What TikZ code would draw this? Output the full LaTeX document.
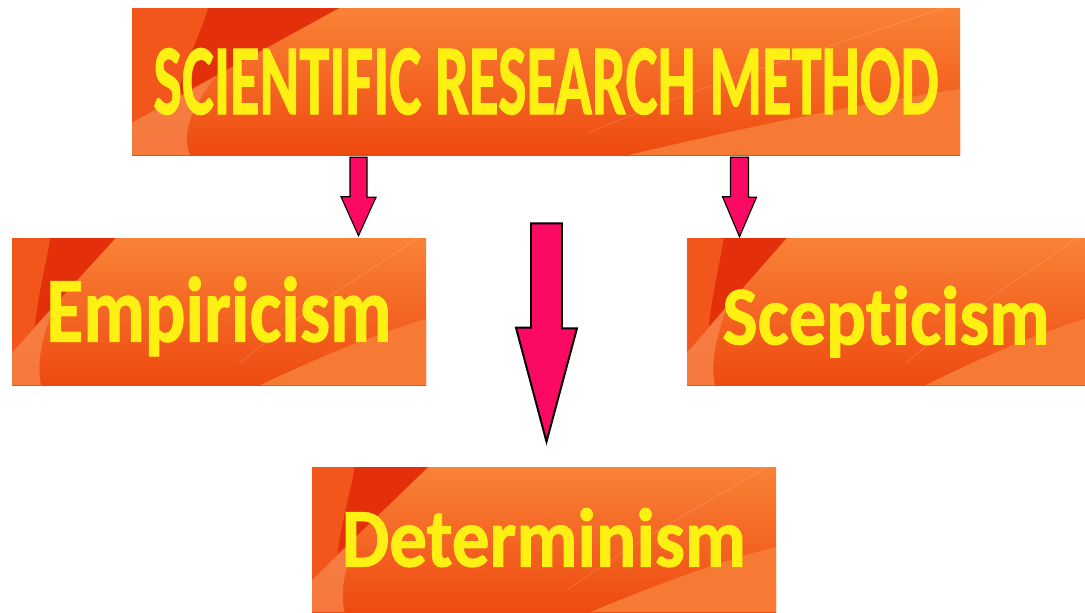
\documentclass[tikz,border=0pt]{standalone}
\usepackage{fontspec}
\setmainfont{Carlito}[Ligatures=NoCommon, BoldFeatures={FakeBold=1.2}]
\usepackage{graphicx}
\usetikzlibrary{calc}
\definecolor{panelred}{HTML}{E3300A}
\definecolor{panelorange}{HTML}{F2561A}
\definecolor{paneltop}{HTML}{F98236}
\definecolor{panelbottom}{HTML}{EE4A10}
\definecolor{panelpeach}{HTML}{F7844A}
\definecolor{panellight}{HTML}{F67A34}
\definecolor{titleyellow}{HTML}{FFF014}
\definecolor{arrowpink}{HTML}{FA0A62}

% text stretched to a given ink width and cap height
\newcommand{\fittext}[3]{\resizebox{#1}{#2}{\raisebox{0pt}[\fontcharht\font`E][0pt]{#3}}}

% orange wallpaper of a box: top left corner, width, height (px)
\newcommand{\panelfill}[4]{%
  \begin{scope}[shift={(#1,#2)}, x=#3*0.025cm, y=-#4*0.025cm]
    \fill[top color=paneltop, bottom color=panelbottom] (0,0) rectangle (1,1);
    \fill[panelorange] (0,0) -- (0.25,0) -- (0,0.78) -- cycle;
    \fill[panelred] (0.092,0) -- (0.25,0) -- (0.055,0.6) .. controls (0.065,0.35) and (0.085,0.15) .. (0.092,0) -- cycle;
    \fill[panelpeach, opacity=0.8] (0,0.78) -- (0.1,0.47) .. controls (0.07,0.7) and (0.06,0.85) .. (0.07,1) -- (0,1) -- cycle;
    \fill[panellight] (0.6,1) .. controls (0.75,0.8) and (0.88,0.65) .. (1,0.55) -- (1,1) -- cycle;
    \draw[white, opacity=0.2, line width=0.4pt] (0.55,0.85) .. controls (0.7,0.5) and (0.85,0.25) .. (0.98,0);
  \end{scope}}

\tikzset{
  panel/.style 2 args={rectangle, inner sep=0pt, minimum width=#1*0.025cm, minimum height=#2*0.025cm,
    text=titleyellow, font=\bfseries},
  blockarrow/.style={fill=arrowpink, draw=black, line width=0.8pt, line join=miter},
}

\begin{document}
\begin{tikzpicture}[x=0.025cm, y=-0.025cm]
  \useasboundingbox (0,0) rectangle (1085,612);

  % Box backgrounds
  \panelfill{132}{8}{828}{147}
  \panelfill{12}{238}{414}{147}
  \panelfill{687}{238}{398}{147}
  \panelfill{312}{467}{464}{145}

  % Boxes
  \node[panel={828}{147}] (srm) at (546,81.5) {\fittext{19.625cm}{1.625cm}{SCIENTIFIC RESEARCH METHOD}};
  \node[panel={414}{147}] (empiricism) at (219,311.5) {\fittext{8.625cm}{1.5cm}{Empiricism}};
  \node[panel={398}{147}] (scepticism) at (886,311.5) {\fittext{8.175cm}{1.35cm}{\raisebox{-0.1\height}{Scepticism}}};
  \node[panel={464}{145}] (determinism) at (544,539.5) {\fittext{10.1cm}{1.35cm}{Determinism}};

  % Block arrows
  \coordinate (a1s) at ($(srm.south)+(-187.5,2)$);
  \coordinate (a1t) at ($(empiricism.north -| a1s)+(0,-2)$);
  \draw[blockarrow] ($(a1s)+(-8.5,0)$) -- ++(17,0) -- ++(0,40) -- ++(9,0) -- (a1t) -- ++(-17.5,-39) -- ++(9,0) -- cycle;

  \coordinate (a2s) at ($(srm.south)+(193.5,2)$);
  \coordinate (a2t) at ($(scepticism.north -| a2s)+(0,-1)$);
  \draw[blockarrow] ($(a2s)+(-9,0)$) -- ++(18,0) -- ++(0,40) -- ++(8,0) -- (a2t) -- ++(-17,-40) -- ++(8,0) -- cycle;

  \coordinate (a3s) at ($(srm.south)+(0.5,68)$);
  \coordinate (a3t) at ($(determinism.north -| a3s)+(0,-25)$);
  \draw[blockarrow, line width=1.4pt] ($(a3s)+(-15.5,0)$) -- ++(31,0) -- ++(0,105) -- ++(15,0) -- (a3t) -- ++(-30.5,-114) -- ++(15,0) -- cycle;

\end{tikzpicture}
\end{document}
